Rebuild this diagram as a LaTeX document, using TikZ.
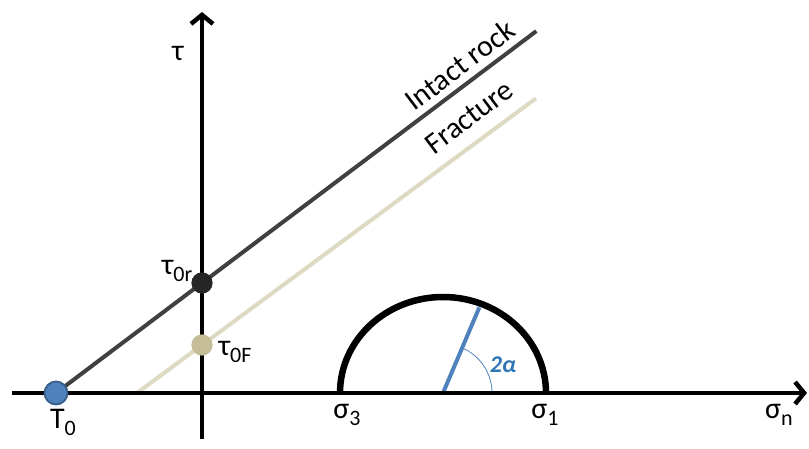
\documentclass[tikz,border=0pt]{standalone}
\usepackage{amsmath,amssymb}
\usepackage{fontspec}
\setmainfont{Carlito}
\usepackage{tikz}
\usetikzlibrary{arrows.meta,positioning,calc}
\definecolor{rockgray}{HTML}{404040}
\definecolor{fracbeige}{HTML}{DDD9C3}
\definecolor{fracdot}{HTML}{C4BD97}
\definecolor{tblue}{HTML}{4F81BD}
\definecolor{tbluedark}{HTML}{385D8A}
\definecolor{angblue}{HTML}{2E75B6}
\newcommand{\lowsub}[1]{\raisebox{-7pt}{\fontsize{22}{24}\selectfont #1}}

\begin{document}
\begin{tikzpicture}[x=1pt, y=1pt, axis/.style={line width=4.5pt, draw=black, -{Straight Barb[length=9pt, width=22pt]}}, dot/.style={circle, minimum size=20pt, inner sep=0pt, line width=1.2pt}, lbl/.style={font=\fontsize{30}{34}\selectfont, inner sep=0pt}, envline/.style={line width=4pt}
]
  \useasboundingbox (-202,-55) rectangle (607,393);
  % axes
  \coordinate (xs) at (-190,0);
  \coordinate (xe) at (605,0);
  \coordinate (ys) at (0,-46);
  \coordinate (ye) at (0,381);
  % envelopes
  \coordinate (T0c) at (-146,0);
  \coordinate (t0rc) at (0,110);
  \coordinate (f0) at (-65,0);
  \coordinate (t0Fc) at (0,48);
  \coordinate (rockend) at ($(T0c)!3.29!(t0rc)$);
  \coordinate (fracend) at ($(f0)!6.14!(t0Fc)$);
  \draw[envline, rockgray] (T0c) -- (rockend);
  \draw[envline, fracbeige] (f0) -- (fracend);
  % Mohr circle
  \coordinate (s3) at (138,0);
  \coordinate (ctr) at (241,0);
  \coordinate (s1) at (344,0);
  \draw[line width=6.5pt] (s3) arc[start angle=180, end angle=0, x radius=103, y radius=96];
  \coordinate (pole) at ($(ctr)+(67:93)$);
  \draw[line width=4pt, tblue] (ctr) -- (pole);
  \draw[line width=0.8pt, tblue] ($(ctr)+(49,0)$) arc[start angle=0, end angle=67, radius=49];
  \draw[axis] (xs) -- (xe);
  \draw[axis] (ys) -- (ye);
  % points
  \node[dot, minimum size=23pt, fill=tblue, draw=tbluedark, line width=1.8pt] (T0) at (T0c) {};
  \node[dot, fill=black!85, draw=black!85] (t0r) at (t0rc) {};
  \node[dot, fill=fracdot, draw=fracdot] (t0F) at (t0Fc) {};
  % labels
  \node[lbl] (tau) at (-24,340) {τ};
  \node[lbl] (t0rlbl) at (-25,122) {τ\lowsub{0r}};
  \node[lbl] (t0Flbl) at (33,41) {τ\lowsub{0F}};
  \node[lbl] (T0lbl) at (-139,-29) {T\lowsub{0}};
  \node[lbl] (s3lbl) at (145,-22) {σ\lowsub{3}};
  \node[lbl] (s1lbl) at (343,-22) {σ\lowsub{1}};
  \node[lbl] (snlbl) at (577,-22) {σ\lowsub{n}};
  \node[lbl, rotate=37] (rocklbl) at (258,328) {Intact rock};
  \node[lbl, rotate=37] (fraclbl) at (267,276) {Fracture};
  \node[font=\fontsize{24}{28}\selectfont\bfseries\itshape, text=angblue, inner sep=0pt] (anglbl) at (301,28) {2α};
\end{tikzpicture}
\end{document}
